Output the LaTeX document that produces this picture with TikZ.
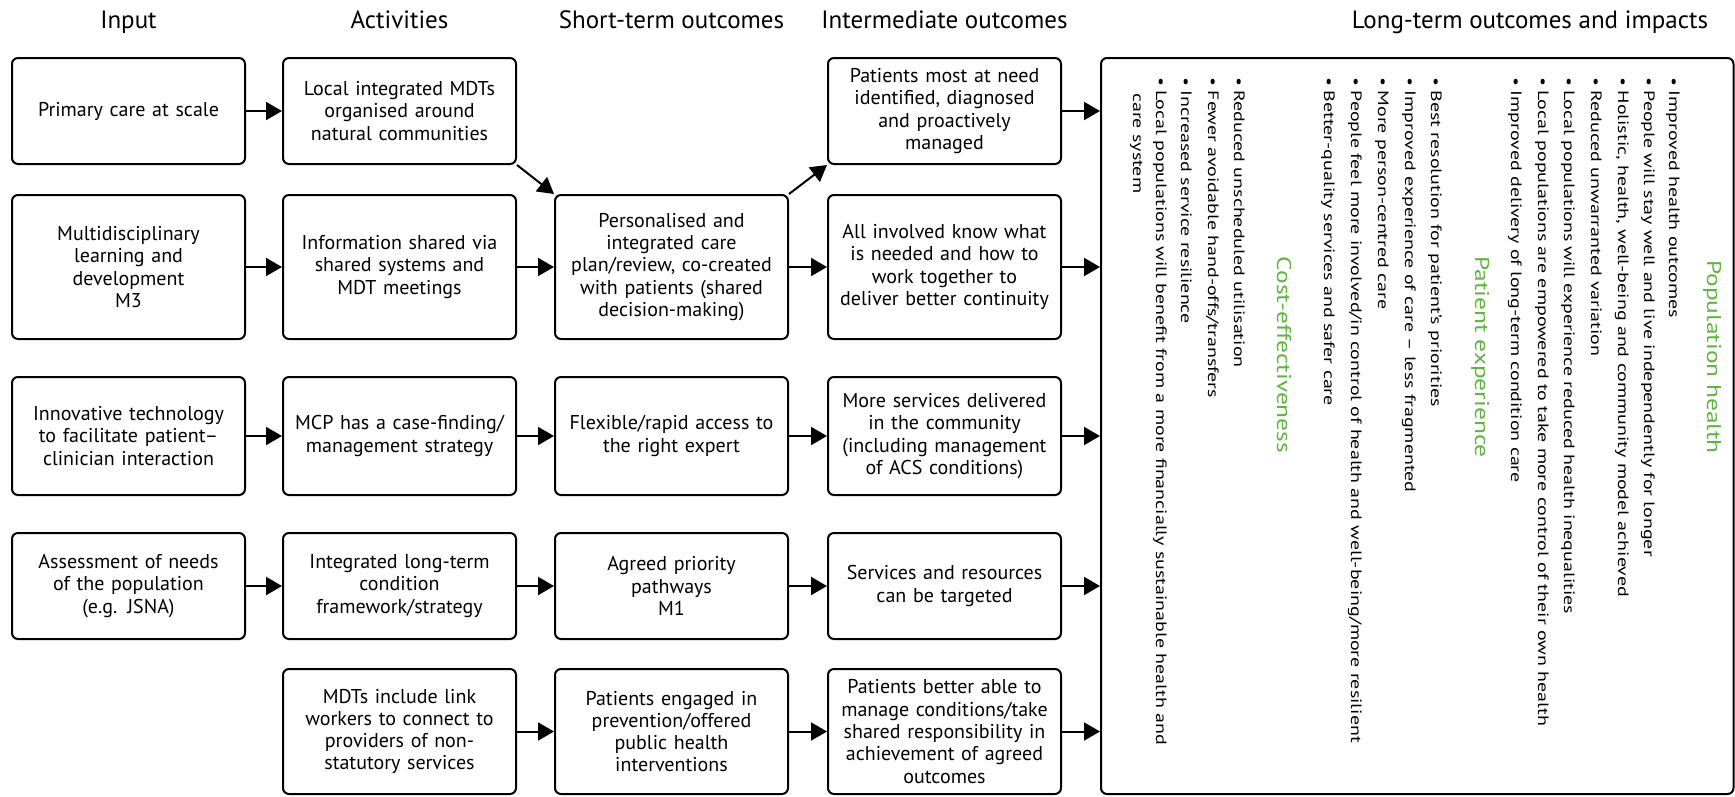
\documentclass[tikz,border=0pt]{standalone}
\usepackage{fontspec}
\setmainfont{PT Sans}
\newfontfamily\ltfamily[FakeStretch=1.33]{PT Sans}
\newfontfamily\lthfamily[FakeStretch=1.27]{PT Sans}
\usetikzlibrary{arrows.meta}
\definecolor{ltgreen}{RGB}{95,180,65}
\newcommand\boxfont{\fontsize{20}{22.3}\selectfont}
\newcommand\headfont{\fontsize{25}{28}\selectfont}
\newcommand\ltfont{\ltfamily\fontsize{15}{17}\selectfont}
\newcommand\ltheadfont{\lthfamily\fontsize{20}{22}\selectfont}
\newcommand\bul{\llap{•\hspace{4.5pt}}}

\begin{document}
\begin{tikzpicture}[x=1pt,y=-1pt,
  stage/.style={draw, line width=2pt, rounded corners=6pt, minimum width=233pt,
    align=center, font=\boxfont, inner sep=0pt, text width=229pt},
  r1/.style={stage, minimum height=106pt},
  r2/.style={stage, minimum height=144pt},
  r3/.style={stage, minimum height=118pt},
  r4/.style={stage, minimum height=106pt},
  r5/.style={stage, minimum height=125pt},
  colhead/.style={font=\headfont, anchor=base, inner sep=0pt},
  arr/.style={line width=2pt, -{Triangle[length=16pt,width=18pt]}},
  ltitem/.style={rotate=-90, anchor=west, font=\ltfont, inner sep=0pt,
    text height=11pt, text depth=3pt},
  lthead/.style={rotate=-90, font=\ltheadfont, text=ltgreen, inner sep=0pt,
    text height=14pt, text depth=4pt}]
\useasboundingbox (0,0) rectangle (1735,796);

% column headings
\node[colhead] (hin)  at (128.5,28.5) {Input};
\node[colhead] (hact) at (399.5,28.5) {Activities};
\node[colhead] (hst)  at (671.5,28.5) {Short-term outcomes};
\node[colhead] (hint) at (944.5,28.5) {Intermediate outcomes};
\node[colhead] (hlt)  at (1530,28.5) {Long-term outcomes and impacts};

% inputs
\node[r1] (in1) at (128.5,111) {Primary care at scale};
\node[r2] (in2) at (128.5,267) {Multidisciplinary\\learning and\\development\\M3};
\node[r3] (in3) at (128.5,436) {Innovative technology\\to facilitate patient–\\clinician interaction};
\node[r4] (in4) at (128.5,586) {Assessment of needs\\of the population\\(e.g. JSNA)};

% activities
\node[r1] (a1) at (399.5,111) {Local integrated MDTs\\organised around\\natural communities};
\node[r2] (a2) at (399.5,267) {Information shared via\\shared systems and\\MDT meetings};
\node[r3] (a3) at (399.5,436) {MCP has a case-finding/\\management strategy};
\node[r4] (a4) at (399.5,586) {Integrated long-term\\condition\\framework/strategy};
\node[r5] (a5) at (399.5,731.5) {MDTs include link\\workers to connect to\\providers of non-\\statutory services};

% short-term outcomes
\node[r2] (s2) at (671.5,267) {Personalised and\\integrated care\\plan/review, co-created\\with patients (shared\\decision-making)};
\node[r3] (s3) at (671.5,436) {Flexible/rapid access to\\the right expert};
\node[r4] (s4) at (671.5,586) {Agreed priority\\pathways\\M1};
\node[r5] (s5) at (671.5,731.5) {Patients engaged in\\prevention/offered\\public health\\interventions};

% intermediate outcomes
\node[r1] (i1) at (944.5,111) {Patients most at need\\identified, diagnosed\\and proactively\\managed};
\node[r2] (i2) at (944.5,267) {All involved know what\\is needed and how to\\work together to\\deliver better continuity};
\node[r3] (i3) at (944.5,436) {More services delivered\\in the community\\(including management\\of ACS conditions)};
\node[r4] (i4) at (944.5,586) {Services and resources\\can be targeted};
\node[r5] (i5) at (944.5,731.5) {Patients better able to\\manage conditions/take\\shared responsibility in\\achievement of agreed\\outcomes};

% long-term outcomes panel
\node[draw, line width=2pt, rounded corners=6pt, minimum width=632.5pt,
  minimum height=736pt, inner sep=0pt] (lt) at (1417.25,426) {};

% population health
\node[lthead] (ph) at (1712,357) {Population health};
\node[ltitem] (p1) at (1673,90.5) {\bul Improved health outcomes};
\node[ltitem] (p2) at (1648,90.5) {\bul People will stay well and live independently for longer};
\node[ltitem] (p3) at (1622,90.5) {\bul Holistic, health, well-being and community model achieved};
\node[ltitem] (p4) at (1595,90.5) {\bul Reduced unwarranted variation};
\node[ltitem] (p5) at (1568,90.5) {\bul Local populations will experience reduced health inequalities};
\node[ltitem] (p6) at (1542,90.5) {\bul Local populations are empowered to take more control of their own health};
\node[ltitem] (p7) at (1515,90.5) {\bul Improved delivery of long-term condition care};

% patient experience
\node[lthead] (pe) at (1480,357) {Patient experience};
\node[ltitem] (e1) at (1435,90.5) {\bul Best resolution for patient’s priorities};
\node[ltitem] (e2) at (1409,90.5) {\bul Improved experience of care – less fragmented};
\node[ltitem] (e3) at (1382,90.5) {\bul More person-centred care};
\node[ltitem] (e4) at (1355,90.5) {\bul People feel more involved/in control of health and well-being/more resilient};
\node[ltitem] (e5) at (1328,90.5) {\bul Better-quality services and safer care};

% cost-effectiveness
\node[lthead] (ce) at (1282,355) {Cost-effectiveness};
\node[ltitem] (c1) at (1238,90.5) {\bul Reduced unscheduled utilisation};
\node[ltitem] (c2) at (1212,90.5) {\bul Fewer avoidable hand-offs/transfers};
\node[ltitem] (c3) at (1185,90.5) {\bul Increased service resilience};
\node[ltitem] (c4) at (1160,90.5) {\bul Local populations will benefit from a more financially sustainable health and};
\node[ltitem] (c4b) at (1137,93) {care system};

% input -> activity
\draw[arr] (in1) -- (a1);
\draw[arr] (in2) -- (a2);
\draw[arr] (in3) -- (a3);
\draw[arr] (in4) -- (a4);

% activity -> short-term
\draw[arr] (a1.south east) -- (s2.north west);
\draw[arr] (a2) -- (s2);
\draw[arr] (a3) -- (s3);
\draw[arr] (a4) -- (s4);
\draw[arr] (a5) -- (s5);

% short-term -> intermediate
\draw[arr] (s2.north east) -- (i1.south west);
\draw[arr] (s2) -- (i2);
\draw[arr] (s3) -- (i3);
\draw[arr] (s4) -- (i4);
\draw[arr] (s5) -- (i5);

% intermediate -> long-term
\draw[arr] (i1.east) -- (i1.east -| lt.west);
\draw[arr] (i2.east) -- (i2.east -| lt.west);
\draw[arr] (i3.east) -- (i3.east -| lt.west);
\draw[arr] (i4.east) -- (i4.east -| lt.west);
\draw[arr] (i5.east) -- (i5.east -| lt.west);
\end{tikzpicture}
\end{document}
